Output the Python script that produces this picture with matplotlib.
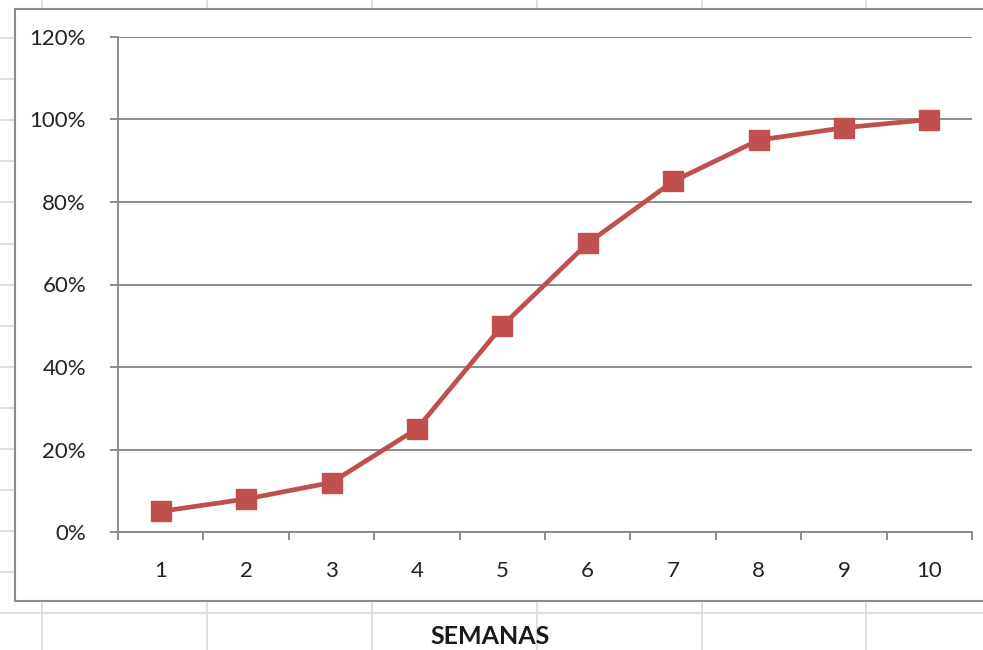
import matplotlib
matplotlib.use('Agg')
import matplotlib.pyplot as plt
from matplotlib.lines import Line2D
from matplotlib.patches import Rectangle
from matplotlib.ticker import FuncFormatter, MultipleLocator

# data
semanas = [1, 2, 3, 4, 5, 6, 7, 8, 9, 10]
avance = [0.05, 0.08, 0.12, 0.25, 0.50, 0.70, 0.85, 0.95, 0.98, 1.00]
x_label = 'SEMANAS'

W, H = 983, 650
red = '#C0504D'
grid = '#868686'
cell = '#D9D9D9'

plt.rcParams['font.family'] = ['Lato', 'DejaVu Sans']

fig = plt.figure(figsize=(W / 100, H / 100), dpi=100)


def px(x, y):
    return x / W, 1 - y / H


# spreadsheet cell grid behind the chart
for cx in [42, 207, 372, 537, 702, 866]:
    (x0, y0), (x1, y1) = px(cx, 0), px(cx, H)
    fig.add_artist(Line2D([x0, x1], [y0, y1], color=cell, lw=1.2, zorder=0))
for k in range(16):
    cy = 38 + 41.1 * k
    (x0, y0), (x1, y1) = px(0, cy), px(W, cy)
    fig.add_artist(Line2D([x0, x1], [y0, y1], color=cell, lw=1.2, zorder=0))

# chart frame
fx, fy = px(15, 601)
fig.add_artist(Rectangle((fx, fy), (W + 10 - 15) / W, (601 - 9) / H,
                         facecolor='white', edgecolor='#8C8C8C', lw=1.5,
                         zorder=1, transform=fig.transFigure))

# title cell below the chart
tx, ty = px(490, 636)
fig.text(tx, ty, x_label, ha='center', va='center', fontsize=18,
         fontweight='bold', color='#1A1A1A', zorder=2)

ax = fig.add_axes([118 / W, (H - 532) / H, 854 / W, 495 / H], zorder=3)
ax.patch.set_alpha(0)

ax.plot(semanas, avance, color=red, lw=3.4, marker='s', markersize=14,
        markerfacecolor=red, markeredgecolor=red, zorder=4, clip_on=False)

ax.set_xlim(0.5, len(semanas) + 0.5)
ax.set_ylim(0, 1.2)
ax.set_xticks(semanas)
ax.set_xticklabels([str(s) for s in semanas])
ax.set_xticks([s - 0.5 for s in semanas] + [len(semanas) + 0.5], minor=True)
ax.yaxis.set_major_locator(MultipleLocator(0.2))
ax.yaxis.set_major_formatter(FuncFormatter(lambda v, p: '%d%%' % round(v * 100)))

ax.grid(axis='y', color=grid, lw=1.3)
ax.set_axisbelow(True)
for s in ['top', 'right']:
    ax.spines[s].set_visible(False)
for s in ['left', 'bottom']:
    ax.spines[s].set_color(grid)
    ax.spines[s].set_linewidth(1.3)

ax.tick_params(axis='x', which='major', length=0, pad=21, labelsize=16,
               labelcolor='#222222')
ax.tick_params(axis='x', which='minor', length=6, width=1.3, color=grid)
ax.tick_params(axis='y', length=6, width=1.3, color=grid, pad=17,
               labelsize=16, labelcolor='#222222')

fig.savefig('out.png', dpi=100)
